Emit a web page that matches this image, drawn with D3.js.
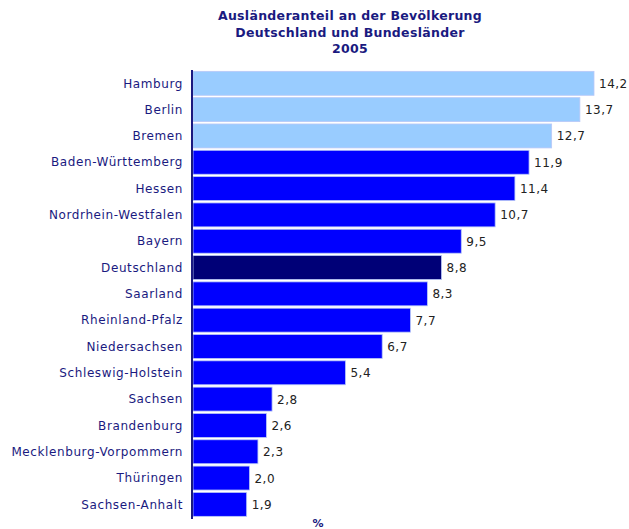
<!DOCTYPE html>
<html>
<head>
<meta charset="utf-8">
<script src="https://cdn.jsdelivr.net/npm/d3@7"></script>
<style>
  body { margin: 0; background: #fff; }
  text { font-family: "DejaVu Sans", Verdana, sans-serif; }
</style>
</head>
<body>
<svg id="mainsvg" width="629" height="529"></svg>
<script>
const laender = ['Hamburg', 'Berlin', 'Bremen', 'Baden-Württemberg', 'Hessen', 'Nordrhein-Westfalen',
  'Bayern', 'Deutschland', 'Saarland', 'Rheinland-Pfalz', 'Niedersachsen', 'Schleswig-Holstein',
  'Sachsen', 'Brandenburg', 'Mecklenburg-Vorpommern', 'Thüringen', 'Sachsen-Anhalt'];
const anteil = [14.2, 13.7, 12.7, 11.9, 11.4, 10.7, 9.5, 8.8, 8.3, 7.7, 6.7, 5.4, 2.8, 2.6, 2.3, 2.0, 1.9];
const stadtstaaten = ['Hamburg', 'Berlin', 'Bremen'];
const titleLines = ['Ausländeranteil an der Bevölkerung', 'Deutschland und Bundesländer', '2005'];

const svg = d3.select('#mainsvg');
const left = 193;

const data = laender.map((d, i) => ({name: d, value: anteil[i]}));

const x = d3.scaleLinear().domain([0, 14.2]).range([left, 594]);
const y = d3.scaleBand().domain(laender).range([70.3, 517.4]).paddingInner(0.09).paddingOuter(0.04);

// title
svg.append('g').selectAll('text')
  .data(titleLines)
  .join('text')
  .attr('x', 350)
  .attr('y', (d, i) => 20 + i * 16.5)
  .attr('text-anchor', 'middle')
  .style('font-size', '12.5px')
  .style('font-weight', 'bold')
  .style('letter-spacing', '0.3px')
  .attr('fill', '#1a1a80')
  .text(d => d);

// bars
const color = d => d.name === 'Deutschland' ? '#000077' : (stadtstaaten.includes(d.name) ? '#99ccff' : '#0000ff');

svg.append('g').selectAll('rect')
  .data(data)
  .join('rect')
  .attr('x', x(0))
  .attr('y', d => y(d.name))
  .attr('width', d => x(d.value) - x(0))
  .attr('height', y.bandwidth())
  .attr('fill', color)
  .attr('stroke', '#b8c8f8')
  .attr('stroke-width', 0.8);

// value labels
svg.append('g').selectAll('text')
  .data(data)
  .join('text')
  .attr('x', d => x(d.value) + 5)
  .attr('y', d => y(d.name) + y.bandwidth() / 2 + 4.5)
  .style('font-size', '12px')
  .style('letter-spacing', '0.5px')
  .attr('fill', '#222')
  .text(d => d3.format('.1f')(d.value).replace('.', ','));

// category axis
const yAxis = svg.append('g')
  .attr('transform', `translate(${left - 1},0)`)
  .call(d3.axisLeft(y).tickSize(0).tickPadding(9));
yAxis.select('.domain').attr('stroke', '#1a1a80').attr('stroke-width', 2)
  .attr('d', `M0,70V519`);
yAxis.selectAll('text')
  .style('font-size', '12px')
  .style('letter-spacing', '0.6px')
  .style('font-family', '"DejaVu Sans", Verdana, sans-serif')
  .attr('fill', '#1a1a80')
  .attr('dy', '0.35em');

svg.append('text')
  .attr('x', 318)
  .attr('y', 527)
  .attr('text-anchor', 'middle')
  .style('font-size', '11px')
  .style('font-weight', 'bold')
  .attr('fill', '#1a1a80')
  .text('%');
</script>
</body>
</html>
